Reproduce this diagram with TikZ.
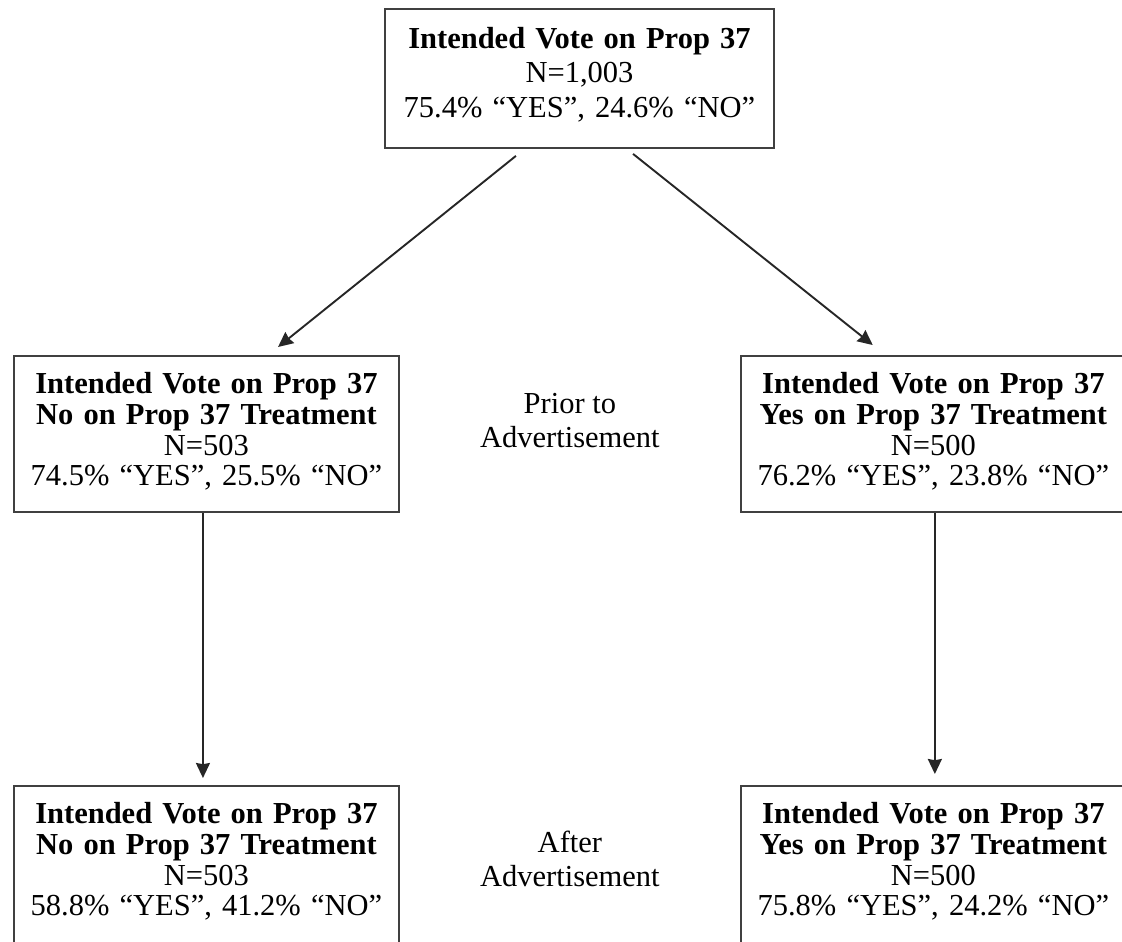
\documentclass[tikz,border=0pt]{standalone}
\usepackage{fontspec}
\setmainfont{Liberation Serif}
\usetikzlibrary{positioning,arrows.meta,calc}

\begin{document}
\begin{tikzpicture}[
votebox/.style={draw=black!75, line width=0.95pt, inner sep=0pt, text width=192.5pt, align=center, font=\fontsize{15.25}{15.4}\selectfont, text height=18.75pt, text depth=59.3pt},
topbox/.style={votebox, text width=194.5pt, font=\fontsize{15.25}{17.25}\selectfont, text height=19.75pt, text depth=49.75pt},
afterbox/.style={votebox, text depth=75pt},
note/.style={align=center, inner sep=0pt, font=\fontsize{15.25}{17}\selectfont},
link/.style={-{Stealth[length=7.5pt, width=7pt, inset=0.6pt]}, draw=black!85, line width=0.95pt}
]
    \useasboundingbox (0,0) rectangle (561pt,-470.5pt);
    \clip (0,0) rectangle (561pt,-470.5pt);

    %Nodes
    \node[topbox, anchor=north west]
        (top)   at (192pt,-4pt) {\textbf{Intended Vote on Prop 37}\\N=1,003\\75.4\% “YES”, 24.6\% “NO”};
    \node[votebox, anchor=north west]
        (mL)    at (6.5pt,-177.5pt) {\textbf{Intended Vote on Prop 37}\\\textbf{No on Prop 37 Treatment}\\N=503\\74.5\% “YES”, 25.5\% “NO”};
    \node[votebox]
        (mR)    [right=170pt of mL] {\textbf{Intended Vote on Prop 37}\\\textbf{Yes on Prop 37 Treatment}\\N=500\\76.2\% “YES”, 23.8\% “NO”};
    \node[afterbox]
        (bL)    [below=136pt of mL] {\textbf{Intended Vote on Prop 37}\\\textbf{No on Prop 37 Treatment}\\N=503\\58.8\% “YES”, 41.2\% “NO”};
    \node[afterbox]
        (bR)    [below=136pt of mR] {\textbf{Intended Vote on Prop 37}\\\textbf{Yes on Prop 37 Treatment}\\N=500\\75.8\% “YES”, 24.2\% “NO”};
    \node[note]
        (prior) at ($(mL.east)!0.5!(mR.west)$) [yshift=6.6pt] {Prior to\\Advertisement};
    \node[note]
        (after) at ($(bL.east)!0.5!(bR.west)$) [yshift=10.2pt] {After\\Advertisement};

    %Lines
    \draw[link, shorten <=5.6pt, shorten >=6.4pt]
        ([xshift=-27.4pt]top.south) -- ([xshift=30.8pt]mL.north);
    \draw[link, shorten <=4pt, shorten >=8pt]
        ([xshift=23.65pt]top.south) -- ([xshift=-24.05pt]mR.north);
    \draw[link, shorten >=3.5pt]
        ([xshift=-1.75pt]mL.south) -- ([xshift=-1.75pt]bL.north);
    \draw[link, shorten >=5.5pt]
        ([xshift=0.75pt]mR.south) -- ([xshift=0.75pt]bR.north);
\end{tikzpicture}
\end{document}
